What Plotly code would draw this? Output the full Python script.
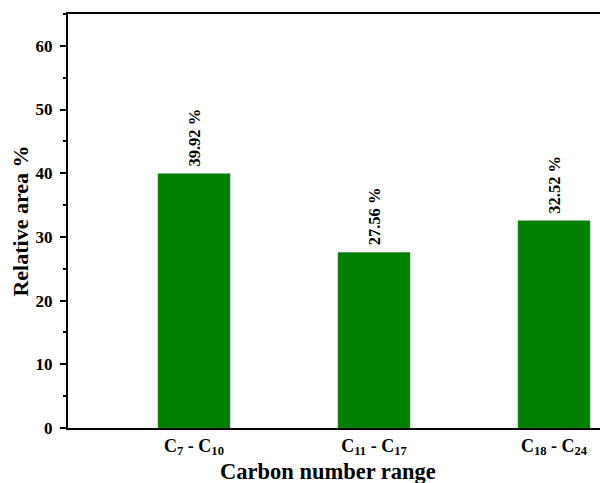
import plotly.graph_objects as go

categories = ["C<sub>7</sub> - C<sub>10</sub>", "C<sub>11</sub> - C<sub>17</sub>", "C<sub>18</sub> - C<sub>24</sub>"]
values = [39.92, 27.56, 32.52]
labels = [f"\u00a0<b>{v:.2f} %</b>" for v in values]
y_ticks = [0, 10, 20, 30, 40, 50, 60]

FONT = "Liberation Serif, Times New Roman, serif"

fig = go.Figure(go.Bar(
    x=[0, 1, 2], y=values, width=0.4,
    marker=dict(color="#008000", line=dict(color="#3c8c3c", width=0.6)),
    text=labels, textposition="outside", textangle=-90,
    textfont=dict(family=FONT, size=16.5, color="black"),
    cliponaxis=False, constraintext="none",
))

# page body has an 8px margin, so the figure is sized to fill the rest of the window
fig.update_layout(
    width=600, height=475,
    margin=dict(l=60, r=0, t=6, b=55),
    plot_bgcolor="white", paper_bgcolor="white",
    font=dict(family=FONT, color="black"),
    showlegend=False,
)
fig.add_annotation(
    text="<b>Carbon number range</b>", font=dict(size=22.5),
    xref="paper", yref="paper", x=0.4815, y=0, xanchor="center", yanchor="top",
    yshift=-29, showarrow=False,
)
fig.update_xaxes(
    range=[-0.7, 2.3], tickvals=[0, 1, 2], ticktext=[f"<b>{c}</b>" for c in categories],
    tickfont=dict(size=18), showline=True, linecolor="black", linewidth=2, mirror=True,
    ticks="", showgrid=False, zeroline=False, automargin=False,
)
fig.update_yaxes(
    range=[0, 65], tickvals=y_ticks, ticktext=[f"<b>{t}</b>" for t in y_ticks],
    tickfont=dict(size=17), showline=True, linecolor="black", linewidth=2,
    ticks="outside", ticklen=6, tickwidth=2, tickcolor="black", ticklabelstandoff=4,
    minor=dict(dtick=5, ticks="outside", ticklen=3, tickwidth=2, tickcolor="black"),
    showgrid=False, zeroline=False, automargin=False,
    title=dict(text="<b>Relative area %</b>", font=dict(size=22), standoff=8),
)

fig.write_html("out.html")
